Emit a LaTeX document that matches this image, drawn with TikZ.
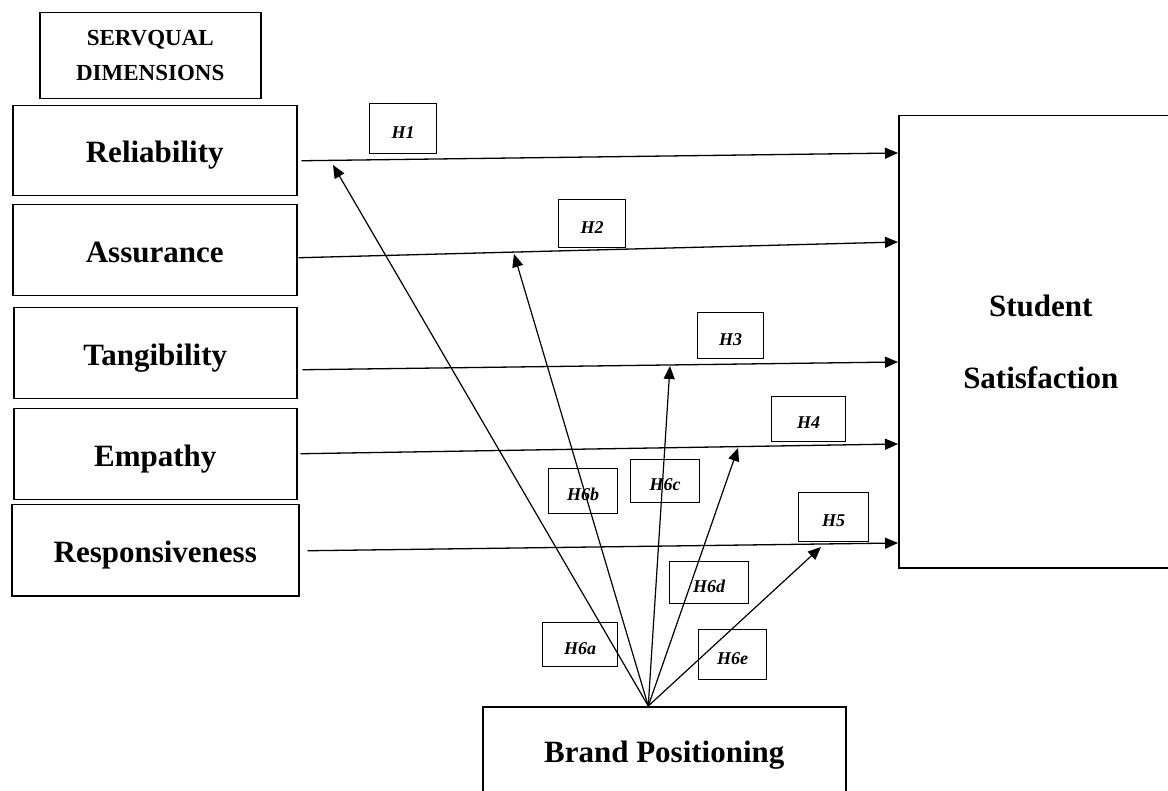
\documentclass[tikz,border=0pt]{standalone}
\usepackage{fontspec}
\setmainfont{Liberation Serif}
\usetikzlibrary{arrows.meta}
\begin{document}
\begin{tikzpicture}[x=1pt,y=-1pt,
  box/.style={draw, line width=1.5pt, inner sep=0pt, anchor=north west, align=center,
    font=\bfseries\fontsize{31}{36}\selectfont},
  onebox/.style={box, text height=24pt, text depth=0pt},
  hbox/.style={draw, line width=1.2pt, inner sep=0pt, anchor=north west,
    text height=19pt, text depth=0pt,
    font=\bfseries\itshape\fontsize{18}{20}\selectfont},
  harr/.style={line width=1.3pt, -{Triangle[length=13pt,width=11pt]}},
  darr/.style={line width=1.2pt, -{Triangle[length=13pt,width=11pt]}}]
\useasboundingbox (0,0) rectangle (1168,791);
% left column
\node[box, minimum width=221pt, minimum height=86pt, font=\bfseries\fontsize{23}{35}\selectfont] (sq) at (39,12) {SERVQUAL\\DIMENSIONS};
\node[onebox, minimum width=284pt, minimum height=90pt] (rel) at (12,105) {Reliability};
\node[onebox, minimum width=284pt, minimum height=91pt] (asr) at (12,204) {Assurance};
\node[onebox, minimum width=283pt, minimum height=91pt] (tan) at (13,307) {Tangibility};
\node[onebox, minimum width=283pt, minimum height=91pt] (emp) at (13,408) {Empathy};
\node[onebox, minimum width=287pt, minimum height=91pt] (res) at (11,504) {Responsiveness};
% right and bottom
\node[box, minimum width=284pt, minimum height=452pt, font=\bfseries\fontsize{31}{72}\selectfont] (ss) at (898,115) {Student\\Satisfaction};
\node[onebox, minimum width=363pt, minimum height=88pt] (bp) at (482,706) {Brand Positioning};
% hypothesis labels
\node[hbox, minimum width=67pt, minimum height=50pt] (h1) at (369,103) {H1};
\node[hbox, minimum width=67pt, minimum height=48pt] (h2) at (558,199) {H2};
\node[hbox, minimum width=66pt, minimum height=46pt] (h3) at (697,312) {H3};
\node[hbox, minimum width=74pt, minimum height=45pt] (h4) at (771,396) {H4};
\node[hbox, minimum width=70pt, minimum height=49pt] (h5) at (798,492) {H5};
\node[hbox, minimum width=75pt, minimum height=44pt] (h6a) at (542,622) {H6a};
\node[hbox, minimum width=69pt, minimum height=45pt] (h6b) at (548,468) {H6b};
\node[hbox, minimum width=69pt, minimum height=43pt] (h6c) at (630,459) {H6c};
\node[hbox, minimum width=79pt, minimum height=42pt] (h6d) at (669,561) {H6d};
\node[hbox, minimum width=68pt, minimum height=50pt] (h6e) at (698,629) {H6e};
% direct effects
\draw[harr] ([shift={(4,10)}]rel.east) -- ([shift={(0,38)}]ss.north west);
\draw[harr] ([shift={(1,7.5)}]asr.east) -- ([shift={(0,127)}]ss.north west);
\draw[harr] ([shift={(5,16.5)}]tan.east) -- ([shift={(0,247)}]ss.north west);
\draw[harr] ([shift={(3,-0.5)}]emp.east) -- ([shift={(0,329)}]ss.north west);
\draw[harr] ([shift={(8,0.5)}]res.east) -- ([shift={(0,428)}]ss.north west);
% moderating effects
\coordinate (o) at ([xshift=-16pt]bp.north);
\coordinate (ta) at (333,165);
\coordinate (tb) at (514,254);
\coordinate (tc) at (670,366);
\coordinate (td) at (738,448);
\coordinate (te) at (821,547);
\draw[darr] (o) -- (ta);
\draw[darr] (o) -- (tb);
\draw[darr] (o) -- (tc);
\draw[darr] (o) -- (td);
\draw[darr] (o) -- (te);
\end{tikzpicture}
\end{document}
